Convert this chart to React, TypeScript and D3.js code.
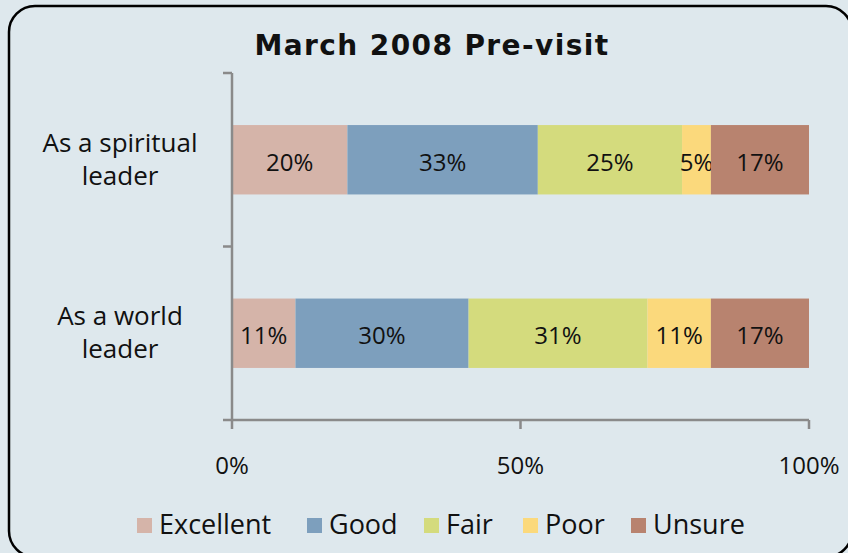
import React from 'react';
import * as d3 from 'd3';

// chart data
const categories = ['As a spiritual leader', 'As a world leader'];
const categoryLines = [['As a spiritual', 'leader'], ['As a world', 'leader']];
const seriesNames = ['Excellent', 'Good', 'Fair', 'Poor', 'Unsure'];
const seriesColors = ['#D5B4A9', '#7D9FBD', '#D4DB7D', '#FBD97C', '#B8836F'];
const excellent = [20, 11];
const good = [33, 30];
const fair = [25, 31];
const poor = [5, 11];
const unsure = [17, 17];
const xTicks = [0, 50, 100];

const W = 848;
const H = 553;
const FONT = '"Open Sans", sans-serif';

export default function App() {
  const margin = { top: 73, right: 39, bottom: 133, left: 232 };
  const innerW = W - margin.left - margin.right;
  const innerH = H - margin.top - margin.bottom;

  const x = d3.scaleLinear().domain([0, 100]).range([0, innerW]);
  const y = d3.scaleBand().domain(categories).range([0, innerH]).padding(0);
  const barH = y.bandwidth() * 0.4;

  const rows = categories.map((c, i) => ({
    cat: c,
    Excellent: excellent[i],
    Good: good[i],
    Fair: fair[i],
    Poor: poor[i],
    Unsure: unsure[i],
  }));
  const stacked = d3.stack<any>().keys(seriesNames)(rows);

  // legend layout
  const legendX = [137, 307, 424, 523, 631];
  const axisColor = '#8A8A8A';

  return (
    <svg
      width={W}
      height={H}
      style={{ position: 'absolute', left: 0, top: 0, background: '#DEE8ED' }}
      fontFamily={FONT}
    >
      <rect x={0} y={0} width={W} height={H} fill="#DEE8ED" />
      <rect x={9} y={6} width={843} height={551} rx={26} fill="none" stroke="#000" strokeWidth={2.5} />

      <text x={432} y={55} textAnchor="middle" fontSize={28} fontWeight="bold" letterSpacing={1.4}
        fontFamily='"DejaVu Sans", sans-serif' fill="#111">
        March 2008 Pre-visit
      </text>

      <g transform={`translate(${margin.left},${margin.top})`}>
        {stacked.map((s, si) =>
          s.map((d, i) => {
            const cy = y(categories[i])! + y.bandwidth() / 2;
            const x0 = x(d[0]);
            const x1 = x(d[1]);
            return (
              <g key={`${si}-${i}`}>
                <rect x={x0} y={cy - barH / 2} width={x1 - x0} height={barH} fill={seriesColors[si]} />
                <text x={(x0 + x1) / 2} y={cy + 11} textAnchor="middle" fontSize={24} fill="#111">
                  {`${d[1] - d[0]}%`}
                </text>
              </g>
            );
          })
        )}

        {/* y axis */}
        <line x1={0} x2={0} y1={0} y2={innerH} stroke={axisColor} strokeWidth={2.5} />
        {[0, y.bandwidth(), innerH].map((t, i) => (
          <line key={i} x1={-9} x2={0} y1={t} y2={t} stroke={axisColor} strokeWidth={2.5} />
        ))}
        {categories.map((c, i) => {
          const cy = y(c)! + y.bandwidth() / 2;
          return (
            <text key={c} x={-112} textAnchor="middle" fontSize={26} fill="#111">
              <tspan x={-112} y={cy - 8}>{categoryLines[i][0]}</tspan>
              <tspan x={-112} y={cy + 25}>{categoryLines[i][1]}</tspan>
            </text>
          );
        })}

        {/* x axis */}
        <line x1={0} x2={innerW} y1={innerH} y2={innerH} stroke={axisColor} strokeWidth={2.5} />
        {xTicks.map((t) => (
          <g key={t}>
            <line x1={x(t)} x2={x(t)} y1={innerH} y2={innerH + 9} stroke={axisColor} strokeWidth={2.5} />
            <text x={x(t)} y={innerH + 54} textAnchor="middle" fontSize={24} fill="#111">
              {`${t}%`}
            </text>
          </g>
        ))}
      </g>

      {/* legend */}
      {seriesNames.map((n, i) => (
        <g key={n} transform={`translate(${legendX[i]},518)`}>
          <rect x={0} y={0} width={15} height={15} fill={seriesColors[i]} />
          <text x={22} y={16} fontSize={27} fill="#111">
            {n}
          </text>
        </g>
      ))}
    </svg>
  );
}
